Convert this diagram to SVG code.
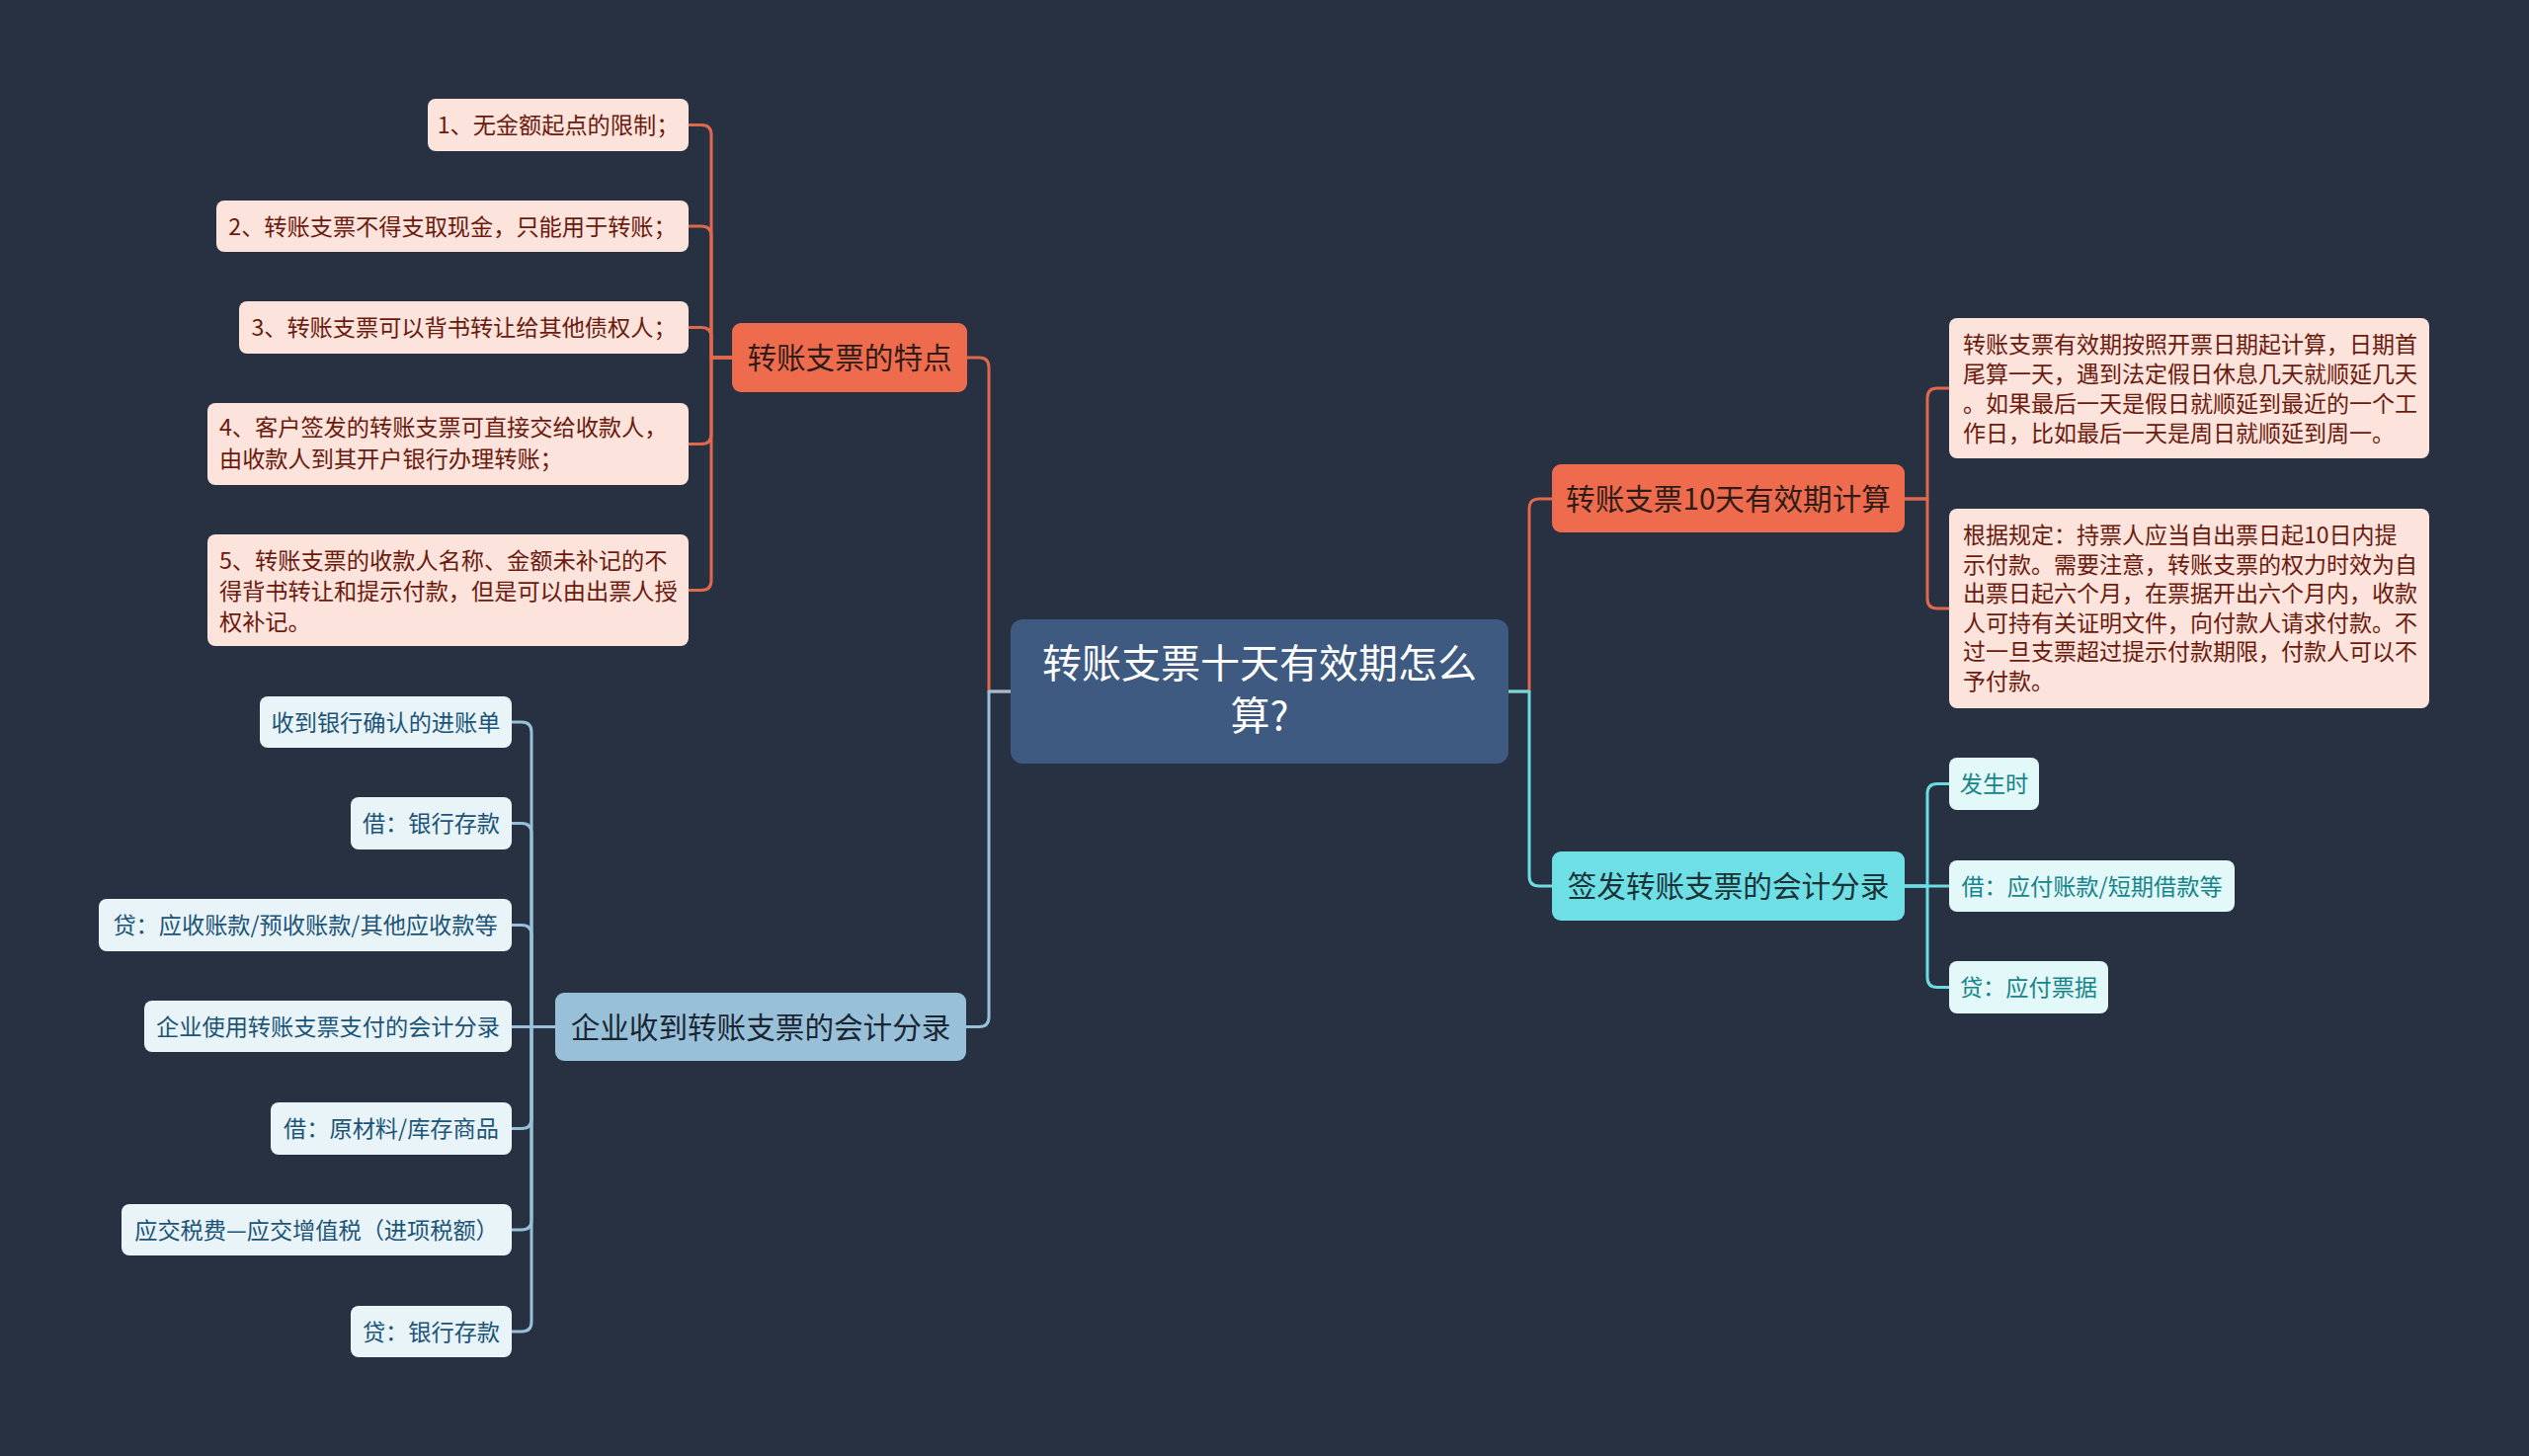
<svg xmlns="http://www.w3.org/2000/svg" width="2560" height="1474" viewBox="0 0 2560 1474">
<style>
text{font-family:"Noto Sans CJK SC","Noto Sans",sans-serif;}
.c{fill:none;stroke-width:3;stroke-linecap:round;stroke-linejoin:round;}
.co{stroke:#e0694d;}
.cb{stroke:#98c1d9;}
.cc{stroke:#6adde3;}
.mo{fill:#ee6c4d;}
.mb{fill:#98c1d9;}
.mc{fill:#6ddfe5;}
.lo{fill:#fce3dc;}
.lb{fill:#e9f4f9;}
.lc{fill:#e3f8f9;}
.tm{font-size:29.6px;text-anchor:middle;}
.tmo{fill:#2e1c18;}
.tmb{fill:#1b2532;}
.tmc{fill:#1b3236;}
.tl{font-size:23.2px;}
.mid{text-anchor:middle;}
.tlo{fill:#6b1a0e;}
.tlb{fill:#1c5478;}
.tlc{fill:#16858b;}
</style>
<rect width="2560" height="1474" fill="#283142"/>
<g id="connectors">
<path class="c co" d="M1023 700 H1001 V372 Q1001 362 991 362 H979"/>
<path class="c cb" d="M1023 700 H1001 V1029.5 Q1001 1039.5 991 1039.5 H978"/>
<path class="c co" d="M1527 700 H1548 V515 Q1548 505 1558 505 H1571"/>
<path class="c cc" d="M1527 700 H1548 V887 Q1548 897 1558 897 H1571"/>
<path class="c co" d="M741 362 H720 V136.5 Q720 126.5 710 126.5 H697"/>
<path class="c co" d="M741 362 H720 V239 Q720 229 710 229 H697"/>
<path class="c co" d="M741 362 H720 V341.5 Q720 331.5 710 331.5 H697"/>
<path class="c co" d="M741 362 H720 V439.5 Q720 449.5 710 449.5 H697"/>
<path class="c co" d="M741 362 H720 V587.5 Q720 597.5 710 597.5 H697"/>
<path class="c cb" d="M562 1039.5 H538 V741 Q538 731 528 731 H518"/>
<path class="c cb" d="M562 1039.5 H538 V843.5 Q538 833.5 528 833.5 H518"/>
<path class="c cb" d="M562 1039.5 H538 V946.5 Q538 936.5 528 936.5 H518"/>
<path class="c cb" d="M562 1039.5 H518"/>
<path class="c cb" d="M562 1039.5 H538 V1132.5 Q538 1142.5 528 1142.5 H518"/>
<path class="c cb" d="M562 1039.5 H538 V1235 Q538 1245 528 1245 H518"/>
<path class="c cb" d="M562 1039.5 H538 V1338 Q538 1348 528 1348 H518"/>
<path class="c co" d="M1928 505 H1951 V403 Q1951 393 1961 393 H1973"/>
<path class="c co" d="M1928 505 H1951 V606 Q1951 616 1961 616 H1973"/>
<path class="c cc" d="M1928 897 H1951 V803.5 Q1951 793.5 1961 793.5 H1973"/>
<path class="c cc" d="M1928 897 H1973"/>
<path class="c cc" d="M1928 897 H1951 V989.5 Q1951 999.5 1961 999.5 H1973"/>
</g>
<g id="root">
<rect x="1023" y="627" width="504" height="146" rx="12" fill="#3e5a80"/>
<text x="1275" y="686" font-size="40" text-anchor="middle" fill="#ffffff">转账支票十天有效期怎么</text>
<text x="1275" y="739" font-size="40" text-anchor="middle" fill="#ffffff">算?</text>
</g>
<g id="n-tezheng">
<rect class="mo" x="741" y="327" width="238" height="70" rx="9"/>
<text class="tm tmo" x="860" y="373">转账支票的特点</text>
</g>
<g id="n-tz1">
<rect class="lo" x="433" y="100" width="264" height="53" rx="8"/>
<text class="tl tlo mid" x="565" y="135">1、无金额起点的限制；</text>
</g>
<g id="n-tz2">
<rect class="lo" x="219" y="203" width="478" height="52" rx="8"/>
<text class="tl tlo mid" x="458" y="237.5">2、转账支票不得支取现金，只能用于转账；</text>
</g>
<g id="n-tz3">
<rect class="lo" x="242" y="305" width="455" height="53" rx="8"/>
<text class="tl tlo mid" x="469.5" y="340">3、转账支票可以背书转让给其他债权人；</text>
</g>
<g id="n-tz4">
<rect class="lo" x="210" y="408" width="487" height="83" rx="8"/>
<text class="tl tlo" x="222" y="441">4、客户签发的转账支票可直接交给收款人，</text>
<text class="tl tlo" x="222" y="473">由收款人到其开户银行办理转账；</text>
</g>
<g id="n-tz5">
<rect class="lo" x="210" y="541" width="487" height="113" rx="8"/>
<text class="tl tlo" x="222" y="575.5">5、转账支票的收款人名称、金额未补记的不</text>
<text class="tl tlo" x="222" y="606.5">得背书转让和提示付款，但是可以由出票人授</text>
<text class="tl tlo" x="222" y="637.5">权补记。</text>
</g>
<g id="n-shoudao">
<rect class="mb" x="562" y="1005" width="416" height="69" rx="9"/>
<text class="tm tmb" x="770" y="1050.5">企业收到转账支票的会计分录</text>
</g>
<g id="n-sd1">
<rect class="lb" x="263" y="705" width="255" height="52" rx="8"/>
<text class="tl tlb mid" x="390.5" y="739.5">收到银行确认的进账单</text>
</g>
<g id="n-sd2">
<rect class="lb" x="355" y="807" width="163" height="53" rx="8"/>
<text class="tl tlb mid" x="436.5" y="842">借：银行存款</text>
</g>
<g id="n-sd3">
<rect class="lb" x="100" y="910" width="418" height="53" rx="8"/>
<text class="tl tlb mid" x="309" y="945">贷：应收账款/预收账款/其他应收款等</text>
</g>
<g id="n-sd4">
<rect class="lb" x="146" y="1013" width="372" height="52" rx="8"/>
<text class="tl tlb mid" x="332" y="1047.5">企业使用转账支票支付的会计分录</text>
</g>
<g id="n-sd5">
<rect class="lb" x="274" y="1116" width="244" height="53" rx="8"/>
<text class="tl tlb mid" x="396" y="1151">借：原材料/库存商品</text>
</g>
<g id="n-sd6">
<rect class="lb" x="123" y="1219" width="395" height="52" rx="8"/>
<text class="tl tlb mid" x="320.5" y="1253.5">应交税费—应交增值税（进项税额）</text>
</g>
<g id="n-sd7">
<rect class="lb" x="355" y="1322" width="163" height="52" rx="8"/>
<text class="tl tlb mid" x="436.5" y="1356.5">贷：银行存款</text>
</g>
<g id="n-youxiaoqi">
<rect class="mo" x="1571" y="470" width="357" height="69" rx="9"/>
<text class="tm tmo" x="1749.5" y="515.5">转账支票10天有效期计算</text>
</g>
<g id="n-yx1">
<rect class="lo" x="1973" y="322" width="486" height="142" rx="8"/>
<text class="tlo" font-size="23" x="1987" y="356.5">转账支票有效期按照开票日期起计算，日期首</text>
<text class="tlo" font-size="23" x="1987" y="386.5">尾算一天，遇到法定假日休息几天就顺延几天</text>
<text class="tlo" font-size="23" x="1987" y="416.5">。如果最后一天是假日就顺延到最近的一个工</text>
<text class="tlo" font-size="23" x="1987" y="446.5">作日，比如最后一天是周日就顺延到周一。</text>
</g>
<g id="n-yx2">
<rect class="lo" x="1973" y="515" width="486" height="202" rx="8"/>
<text class="tlo" font-size="23" x="1987" y="550">根据规定：持票人应当自出票日起10日内提</text>
<text class="tlo" font-size="23" x="1987" y="579.6">示付款。需要注意，转账支票的权力时效为自</text>
<text class="tlo" font-size="23" x="1987" y="609.2">出票日起六个月，在票据开出六个月内，收款</text>
<text class="tlo" font-size="23" x="1987" y="638.8">人可持有关证明文件，向付款人请求付款。不</text>
<text class="tlo" font-size="23" x="1987" y="668.4">过一旦支票超过提示付款期限，付款人可以不</text>
<text class="tlo" font-size="23" x="1987" y="698">予付款。</text>
</g>
<g id="n-qianfa">
<rect class="mc" x="1571" y="862" width="357" height="70" rx="9"/>
<text class="tm tmc" x="1749.5" y="908">签发转账支票的会计分录</text>
</g>
<g id="n-qf1">
<rect class="lc" x="1973" y="767" width="91" height="53" rx="8"/>
<text class="tl tlc mid" x="2018.5" y="802">发生时</text>
</g>
<g id="n-qf2">
<rect class="lc" x="1973" y="871" width="289" height="52" rx="8"/>
<text class="tl tlc mid" x="2117.5" y="905.5">借：应付账款/短期借款等</text>
</g>
<g id="n-qf3">
<rect class="lc" x="1973" y="973" width="161" height="53" rx="8"/>
<text class="tl tlc mid" x="2053.5" y="1008">贷：应付票据</text>
</g>
</svg>
